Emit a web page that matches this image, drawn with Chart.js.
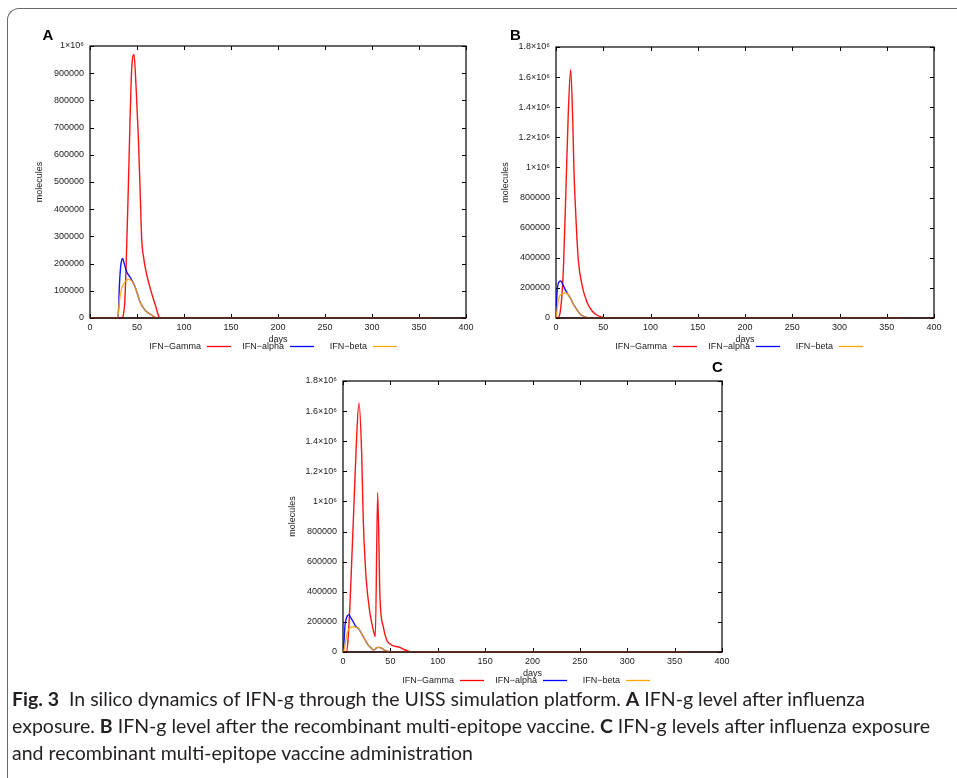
<!DOCTYPE html>
<html>
<head>
<meta charset="utf-8">
<script src="https://cdn.jsdelivr.net/npm/chart.js@4.4.1/dist/chart.umd.min.js"></script>
<style>
  html, body { margin:0; padding:0; background:#fff; width:957px; height:778px; overflow:hidden; }
  #frame { position:absolute; left:7px; top:8px; width:1100px; height:1100px;
           border-top:1.5px solid #6a6a6a; border-left:1.5px solid #6a6a6a; border-top-left-radius:12px; }
  canvas { position:absolute; }
  #caption { position:absolute; left:12px; top:686px; font-family:Lato, 'Open Sans', sans-serif;
             font-size:18.5px; line-height:27px; color:#231f20; white-space:nowrap; transform-origin:0 0; }
  #caption b { font-weight:700; }
</style>
</head>
<body>
<div id="frame"></div>
<canvas id="cA" width="480" height="360" style="left:0px;top:0px"></canvas>
<canvas id="cB" width="477" height="360" style="left:480px;top:0px"></canvas>
<canvas id="cC" width="520" height="350" style="left:240px;top:340px"></canvas>
<div id="caption">
  <div><b>Fig. 3</b>&nbsp; In silico dynamics of IFN-g through the UISS simulation platform. <b>A</b> IFN-g level after influenza</div>
  <div id="capline2">exposure. <b>B</b> IFN-g level after the recombinant multi-epitope vaccine. <b>C</b> IFN-g levels after influenza exposure</div>
  <div>and recombinant multi-epitope vaccine administration</div>
</div>
<script>
// ---------- tick values ----------
const xTicks = [0, 50, 100, 150, 200, 250, 300, 350, 400];
const yTicksA = [0, 100000, 200000, 300000, 400000, 500000, 600000, 700000, 800000, 900000, 1000000];
const yTickLabelsA = ['0', '100000', '200000', '300000', '400000', '500000', '600000', '700000', '800000', '900000', '1×10⁶'];
const yTicksBC = [0, 200000, 400000, 600000, 800000, 1000000, 1200000, 1400000, 1600000, 1800000];
const yTickLabelsBC = ['0', '200000', '400000', '600000', '800000', '1×10⁶', '1.2×10⁶', '1.4×10⁶', '1.6×10⁶', '1.8×10⁶'];
const seriesNames = ['IFN−Gamma', 'IFN−alpha', 'IFN−beta'];

// ---------- Panel A: influenza exposure ----------
const A_gamma_days = [0, 34, 35.5, 37, 38.5, 40.8, 42.6, 44.3, 46.8, 49, 51.4, 53.2, 55, 56.7, 60.3, 65.6, 70, 73.5, 75, 365];
const A_gamma_vals = [0, 0, 12000, 60000, 200000, 483000, 728000, 912000, 969000, 850000, 667000, 483000, 290000, 230000, 160000, 91000, 42000, 3000, 0, 0];
const A_alpha_days = [0, 29.5, 30.5, 31.2, 32.6, 34, 34.8, 36, 39, 42.6, 45, 47.9, 50.5, 53.2, 58.5, 65.6, 71, 365];
const A_alpha_vals = [0, 0, 40000, 115000, 189000, 215000, 219000, 205000, 170000, 150000, 136000, 115000, 88000, 60000, 29000, 11000, 0, 0];
const A_beta_days = [0, 29.4, 31.2, 33.7, 35.5, 38.5, 40.8, 42.6, 45, 47.9, 50.5, 53.2, 58.5, 65.6, 71, 365];
const A_beta_vals = [0, 0, 60000, 110000, 124000, 138000, 142000, 140000, 134000, 115000, 88000, 60000, 29000, 11000, 0, 0];

// ---------- Panel B: multi-epitope vaccine ----------
const B_gamma_days = [0, 1.5, 4.2, 6, 7.8, 10.6, 13, 15.5, 17.7, 19, 21.2, 23.6, 27.5, 32.5, 37.8, 43, 48, 52, 365];
const B_gamma_vals = [0, 0, 31000, 130000, 319000, 872000, 1360000, 1650000, 1315000, 983000, 651000, 385000, 220000, 110000, 50000, 20000, 7000, 0, 0];
const B_alpha_days = [0, 0.7, 1.5, 3, 5, 7.8, 10, 12, 14.5, 16.6, 19, 21.9, 25, 28, 32.5, 36, 365];
const B_alpha_vals = [0, 120000, 200000, 238000, 246000, 215000, 185000, 163000, 140000, 115000, 85000, 58000, 30000, 15000, 4000, 0, 0];
const B_beta_days = [0, 1, 2.5, 4.2, 6, 9.5, 12, 14.5, 16.6, 19, 21.9, 25, 28, 32.5, 36, 365];
const B_beta_vals = [0, 50000, 120000, 150000, 160000, 166000, 162000, 140000, 115000, 85000, 58000, 30000, 15000, 4000, 0, 0];

// ---------- Panel C: influenza exposure + vaccine ----------
const C_gamma_days = [0, 3.9, 5.5, 7.4, 9.5, 11.6, 14.4, 16.9, 19.7, 21.4, 24.3, 28.5, 32, 34.1, 36.6, 39, 42.5, 46.1, 51.4, 55, 60, 65, 70.5, 72, 365];
const C_gamma_vals = [0, 0, 100000, 323000, 650000, 987000, 1430000, 1655000, 1320000, 877000, 500000, 257000, 146000, 102000, 1058000, 367000, 168000, 80000, 46000, 38000, 31000, 15000, 3000, 0, 0];
const C_alpha_days = [0, 1, 2, 3.2, 4.5, 6.3, 8, 10.9, 13, 15, 16.2, 18.5, 21.4, 24, 26.7, 29.5, 32, 34, 35.5, 38.3, 40.5, 42.5, 45, 47.8, 50, 365];
const C_alpha_vals = [0, 60000, 170000, 215000, 240000, 248000, 230000, 200000, 175000, 162000, 157000, 135000, 102000, 72000, 46000, 28000, 14000, 18000, 29000, 31000, 25000, 18000, 8000, 3000, 0, 0];
const C_beta_days = [0, 1, 2, 3.5, 5.6, 8, 10.9, 13.5, 16.2, 18.5, 21.4, 24, 26.7, 29.5, 32, 34, 35.5, 38.3, 40.5, 42.5, 45, 47.8, 50, 365];
const C_beta_vals = [0, 10000, 40000, 100000, 146000, 163000, 168000, 164000, 157000, 135000, 102000, 72000, 46000, 28000, 14000, 18000, 29000, 31000, 25000, 18000, 8000, 3000, 0, 0];

// ---------- helpers ----------
Chart.defaults.font.family = "'Liberation Sans', Arial, sans-serif";
Chart.defaults.font.size = 9;
Chart.defaults.color = '#222';

const colors = ['rgba(255,0,0,0.92)', 'rgba(0,0,255,0.92)', 'rgba(255,165,0,0.86)'];
const legendColors = ['#ff0000', '#0000ff', '#ffa500'];
const drawOrder = [2, 1, 0]; // gamma first (bottom), beta last (top), like the original plot

function pts(days, vals) { return days.map((d, i) => ({ x: d, y: vals[i] })); }

const panelPlugin = {
  id: 'panelDecor',
  beforeDatasetsDraw(chart, args, opts) {
    const { ctx, chartArea: a, scales } = chart;
    ctx.save();
    ctx.strokeStyle = '#000';
    ctx.lineWidth = 1;
    ctx.beginPath();
    scales.x.ticks.forEach(t => {
      const px = Math.round(scales.x.getPixelForValue(t.value)) + 0.5;
      ctx.moveTo(px, a.bottom); ctx.lineTo(px, a.bottom - 4);
      ctx.moveTo(px, a.top); ctx.lineTo(px, a.top + 4);
    });
    scales.y.ticks.forEach(t => {
      const py = Math.round(scales.y.getPixelForValue(t.value)) + 0.5;
      ctx.moveTo(a.left, py); ctx.lineTo(a.left + 4, py);
      ctx.moveTo(a.right, py); ctx.lineTo(a.right - 4, py);
    });
    ctx.stroke();
    ctx.lineWidth = 1.2;
    ctx.strokeRect(a.left, a.top, a.right - a.left, a.bottom - a.top);
    ctx.restore();
  },
  afterDatasetsDraw(chart) {
    const { ctx, chartArea: a } = chart;
    ctx.save();
    ctx.strokeStyle = 'rgba(40,0,0,0.6)';
    ctx.lineWidth = 2;
    ctx.beginPath();
    ctx.moveTo(a.left, a.bottom); ctx.lineTo(a.right, a.bottom);
    ctx.stroke();
    ctx.restore();
  },
  afterDraw(chart, args, opts) {
    const { ctx, chartArea: a } = chart;
    ctx.save();
    ctx.font = "9px 'Liberation Sans', Arial, sans-serif";
    ctx.fillStyle = '#222';
    ctx.textAlign = 'center'; ctx.textBaseline = 'middle';
    ctx.fillText('days', (a.left + a.right) / 2, a.bottom + 21.5);
    ctx.save();
    ctx.translate(a.left - 50, (a.top + a.bottom) / 2);
    ctx.rotate(-Math.PI / 2);
    ctx.fillText('molecules', 0, 0);
    ctx.restore();
    const offs = [117, 200, 283];
    const ly = a.bottom + 28.5;
    seriesNames.forEach((n, i) => {
      const lx = a.left + offs[i];
      ctx.textAlign = 'right';
      ctx.fillStyle = '#222';
      ctx.fillText(n, lx - 6, ly);
      ctx.strokeStyle = legendColors[i];
      ctx.lineWidth = 1.3;
      ctx.beginPath(); ctx.moveTo(lx, ly); ctx.lineTo(lx + 24, ly); ctx.stroke();
    });
    ctx.font = "bold 15px 'Liberation Sans', Arial, sans-serif";
    ctx.fillStyle = '#000';
    ctx.textAlign = 'left'; ctx.textBaseline = 'alphabetic';
    ctx.fillText(opts.letter, opts.lx, opts.ly);
    ctx.restore();
  }
};

function makeChart(id, W, H, area, yMax, yTicks, yLabels, data, letter, lx, ly) {
  new Chart(document.getElementById(id), {
    type: 'line',
    data: {
      datasets: data.map((d, i) => ({
        label: seriesNames[i],
        data: pts(d[0], d[1]),
        borderColor: colors[i],
        borderWidth: 1.4,
        pointRadius: 0,
        fill: false,
        order: drawOrder[i],
        cubicInterpolationMode: 'monotone'
      }))
    },
    options: {
      responsive: false,
      animation: false,
      devicePixelRatio: 1,
      parsing: false,
      layout: { padding: { left: 0, top: area.top, right: W - area.right, bottom: 0 } },
      plugins: { legend: { display: false }, tooltip: { enabled: false },
                 panelDecor: { letter, lx, ly } },
      scales: {
        x: {
          type: 'linear', min: 0, max: 400,
          grid: { display: false, drawTicks: false }, border: { display: false },
          ticks: { padding: 4, maxRotation: 0, autoSkip: false, color: '#222', font: { size: 9 } },
          afterBuildTicks: s => { s.ticks = xTicks.map(v => ({ value: v })); },
          afterFit: s => { s.height = H - area.bottom; }
        },
        y: {
          type: 'linear', min: 0, max: yMax,
          grid: { display: false, drawTicks: false }, border: { display: false },
          ticks: { padding: 6, color: '#222', font: { size: 9 },
                   callback: (v) => { const k = yTicks.indexOf(v); return k >= 0 ? yLabels[k] : ''; } },
          afterBuildTicks: s => { s.ticks = yTicks.map(v => ({ value: v })); },
          afterFit: s => { s.width = area.left; }
        }
      }
    },
    plugins: [panelPlugin]
  });
}

makeChart('cA', 480, 360, { left: 90, top: 46, right: 466, bottom: 318 }, 1000000, yTicksA, yTickLabelsA,
  [[A_gamma_days, A_gamma_vals], [A_alpha_days, A_alpha_vals], [A_beta_days, A_beta_vals]], 'A', 42.5, 40);
makeChart('cB', 477, 360, { left: 76, top: 47, right: 454, bottom: 318 }, 1800000, yTicksBC, yTickLabelsBC,
  [[B_gamma_days, B_gamma_vals], [B_alpha_days, B_alpha_vals], [B_beta_days, B_beta_vals]], 'B', 30, 39.5);
makeChart('cC', 520, 350, { left: 103, top: 41, right: 482, bottom: 312 }, 1800000, yTicksBC, yTickLabelsBC,
  [[C_gamma_days, C_gamma_vals], [C_alpha_days, C_alpha_vals], [C_beta_days, C_beta_vals]], 'C', 472, 32);

function fitCaption() {
  const cap = document.getElementById('caption');
  const l2 = document.getElementById('capline2');
  cap.style.transform = 'none';
  const r = document.createRange(); r.selectNodeContents(l2);
  const w = r.getBoundingClientRect().width;
  if (w > 0) cap.style.transform = 'scaleX(' + (918 / w) + ')';
}
fitCaption();
if (document.fonts && document.fonts.ready) document.fonts.ready.then(fitCaption);
</script>
</body>
</html>
